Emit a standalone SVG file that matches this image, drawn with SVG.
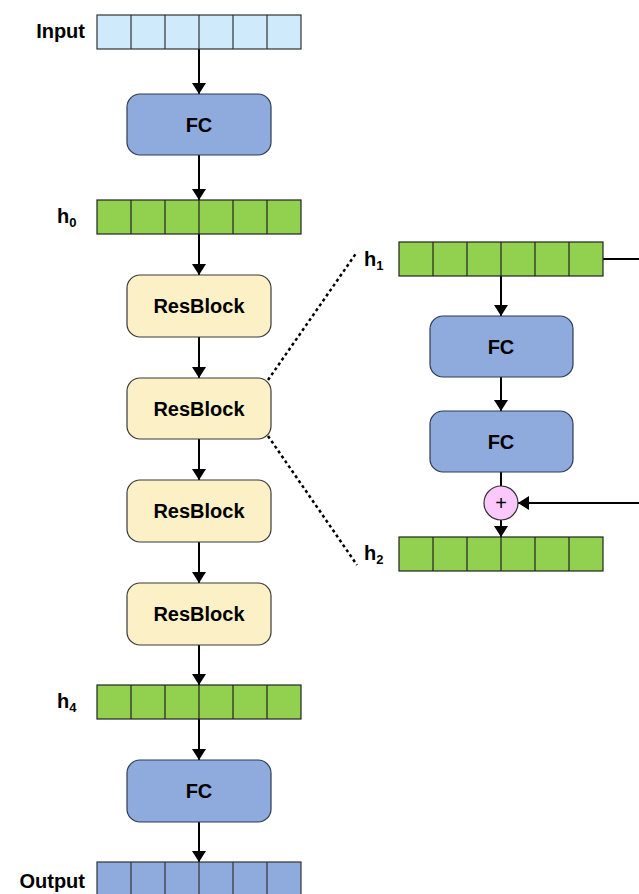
<svg xmlns="http://www.w3.org/2000/svg" width="639" height="894" viewBox="0 0 639 894">
<defs>
<marker id="ah" markerWidth="12" markerHeight="14" refX="11" refY="7" orient="auto" markerUnits="userSpaceOnUse"><path d="M0,0 L11,7 L0,14 Z" fill="#000"/></marker>
<g id="cells">
<line x1="34" y1="0" x2="34" y2="34"/><line x1="68" y1="0" x2="68" y2="34"/><line x1="102" y1="0" x2="102" y2="34"/><line x1="136" y1="0" x2="136" y2="34"/><line x1="170" y1="0" x2="170" y2="34"/>
</g>
</defs>
<style>
.lbl{font-family:"Liberation Sans",Arial,sans-serif;font-weight:bold;font-size:20px;fill:#000}
.fc{fill:#8faadc;stroke:#2f3b52;stroke-width:1.2}
.rb{fill:#fbf0c6;stroke:#3a3a3a;stroke-width:1.2}
.conn{stroke:#000;stroke-width:2;fill:none}
.dot{stroke:#000;stroke-width:2.5;stroke-dasharray:3,3;fill:none}
</style>
<rect width="639" height="894" fill="#fff"/>

<g id="connectors">
<line class="conn" x1="199" y1="49" x2="199" y2="94" marker-end="url(#ah)"/>
<line class="conn" x1="199" y1="155" x2="199" y2="200" marker-end="url(#ah)"/>
<line class="conn" x1="199" y1="234" x2="199" y2="275" marker-end="url(#ah)"/>
<line class="conn" x1="199" y1="337" x2="199" y2="378" marker-end="url(#ah)"/>
<line class="conn" x1="199" y1="439" x2="199" y2="480" marker-end="url(#ah)"/>
<line class="conn" x1="199" y1="542" x2="199" y2="583" marker-end="url(#ah)"/>
<line class="conn" x1="199" y1="645" x2="199" y2="685" marker-end="url(#ah)"/>
<line class="conn" x1="199" y1="719" x2="199" y2="760" marker-end="url(#ah)"/>
<line class="conn" x1="199" y1="822" x2="199" y2="862" marker-end="url(#ah)"/>
<line class="conn" x1="501" y1="276" x2="501" y2="316" marker-end="url(#ah)"/>
<line class="conn" x1="501" y1="377" x2="501" y2="411" marker-end="url(#ah)"/>
<line class="conn" x1="501" y1="472" x2="501" y2="486"/>
<line class="conn" x1="501" y1="520" x2="501" y2="537" marker-end="url(#ah)"/>
<line class="conn" x1="603" y1="259" x2="639" y2="259"/>
<line class="conn" x1="639" y1="503" x2="518" y2="503" marker-end="url(#ah)"/>
<line class="dot" x1="268" y1="380" x2="357" y2="252"/>
<line class="dot" x1="268" y1="436" x2="357" y2="565"/>
</g>

<g id="input">
<rect x="97" y="15" width="204" height="34" fill="#cfeafb" stroke="#333" stroke-width="1.2"/>
<g transform="translate(97,15)" stroke="#333" stroke-width="1.2"><use href="#cells"/></g>
<text class="lbl" x="85" y="38" text-anchor="end">Input</text>
</g>

<g id="fc1">
<rect class="fc" x="127" y="94" width="144" height="61" rx="13"/>
<text class="lbl" x="199" y="132" text-anchor="middle">FC</text>
</g>

<g id="h0">
<rect x="97" y="200" width="204" height="34" fill="#92d050" stroke="#222" stroke-width="1.2"/>
<g transform="translate(97,200)" stroke="#222" stroke-width="1.2"><use href="#cells"/></g>
<text class="lbl" x="57" y="223">h<tspan font-size="13" dy="4">0</tspan></text>
</g>

<g id="resblock1">
<rect class="rb" x="127" y="275" width="144" height="62" rx="13"/>
<text class="lbl" x="199" y="313" text-anchor="middle">ResBlock</text>
</g>
<g id="resblock2">
<rect class="rb" x="127" y="378" width="144" height="61" rx="13"/>
<text class="lbl" x="199" y="416" text-anchor="middle">ResBlock</text>
</g>
<g id="resblock3">
<rect class="rb" x="127" y="480" width="144" height="62" rx="13"/>
<text class="lbl" x="199" y="518" text-anchor="middle">ResBlock</text>
</g>
<g id="resblock4">
<rect class="rb" x="127" y="583" width="144" height="62" rx="13"/>
<text class="lbl" x="199" y="621" text-anchor="middle">ResBlock</text>
</g>

<g id="h4">
<rect x="97" y="685" width="204" height="34" fill="#92d050" stroke="#222" stroke-width="1.2"/>
<g transform="translate(97,685)" stroke="#222" stroke-width="1.2"><use href="#cells"/></g>
<text class="lbl" x="57" y="708">h<tspan font-size="13" dy="4">4</tspan></text>
</g>

<g id="fc2">
<rect class="fc" x="127" y="760" width="144" height="62" rx="13"/>
<text class="lbl" x="199" y="798" text-anchor="middle">FC</text>
</g>

<g id="output">
<rect x="97" y="862" width="204" height="40" fill="#8faadc" stroke="#333" stroke-width="1.2"/>
<g transform="translate(97,862)" stroke="#333" stroke-width="1.2"><use href="#cells"/></g>
<text class="lbl" x="85" y="888" text-anchor="end">Output</text>
</g>

<g id="h1">
<rect x="399" y="242" width="204" height="34" fill="#92d050" stroke="#222" stroke-width="1.2"/>
<g transform="translate(399,242)" stroke="#222" stroke-width="1.2"><use href="#cells"/></g>
<text class="lbl" x="364" y="266">h<tspan font-size="13" dy="4">1</tspan></text>
</g>

<g id="fc_r1">
<rect class="fc" x="430" y="316" width="143" height="61" rx="13"/>
<text class="lbl" x="501" y="354" text-anchor="middle">FC</text>
</g>
<g id="fc_r2">
<rect class="fc" x="430" y="411" width="143" height="61" rx="13"/>
<text class="lbl" x="501" y="449" text-anchor="middle">FC</text>
</g>

<g id="add">
<circle cx="501" cy="503" r="17" fill="#fbc8fb" stroke="#333" stroke-width="1.2"/>
<text x="501" y="510" text-anchor="middle" font-family="Liberation Sans, Arial, sans-serif" font-size="20">+</text>
</g>

<g id="h2">
<rect x="399" y="537" width="204" height="34" fill="#92d050" stroke="#222" stroke-width="1.2"/>
<g transform="translate(399,537)" stroke="#222" stroke-width="1.2"><use href="#cells"/></g>
<text class="lbl" x="364" y="560">h<tspan font-size="13" dy="4">2</tspan></text>
</g>
</svg>
